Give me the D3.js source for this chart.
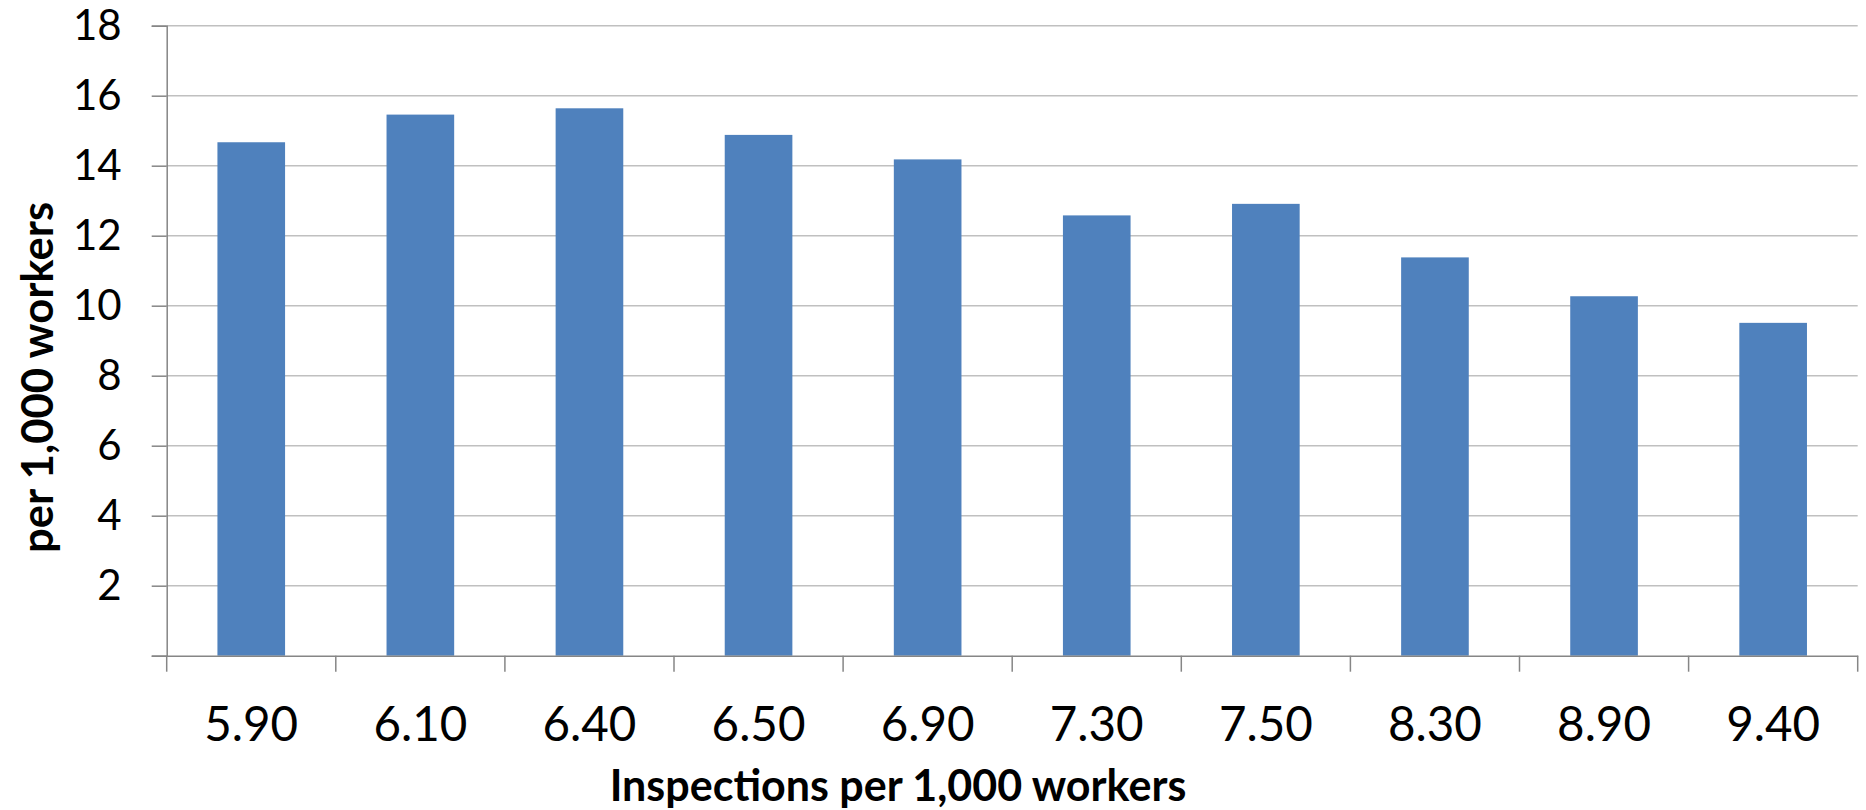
<!DOCTYPE html>
<html>
<head>
<meta charset="utf-8">
<script src="https://cdn.jsdelivr.net/npm/d3@7"></script>
<style>
  html, body { margin: 0; padding: 0; background: #fff; }
  svg { display: block; font-family: Lato, "Open Sans", sans-serif; }
</style>
</head>
<body>
<svg id="chart" width="1866" height="810"></svg>
<script>
// Inspection rate categories (x) and the rate per 1,000 workers (y)
const categories = ["5.90", "6.10", "6.40", "6.50", "6.90", "7.30", "7.50", "8.30", "8.90", "9.40"];
const values = [14.67, 15.46, 15.64, 14.88, 14.18, 12.58, 12.91, 11.38, 10.27, 9.51];
const yTicks = [0, 2, 4, 6, 8, 10, 12, 14, 16, 18];
const xTitle = "Inspections per 1,000 workers";
const yTitle = "per 1,000 workers";

const svg = d3.select("#chart");
const plotLeft = 166.7, plotRight = 1857.7, plotTop = 25.7, plotBottom = 655.7;

const x = d3.scaleBand().domain(categories).range([plotLeft, plotRight]).paddingInner(0.6).paddingOuter(0.3);
const y = d3.scaleLinear().domain([0, 18]).range([plotBottom, plotTop]);

// horizontal gridlines
svg.append("g")
  .selectAll("line")
  .data(yTicks.filter(d => d > 0))
  .join("line")
  .attr("x1", plotLeft).attr("x2", plotRight)
  .attr("y1", d => y(d)).attr("y2", d => y(d))
  .attr("stroke", "#c0c0c0").attr("stroke-width", 1.5);

// bars
svg.append("g")
  .selectAll("rect")
  .data(values)
  .join("rect")
  .attr("x", (d, i) => x(categories[i]))
  .attr("width", x.bandwidth())
  .attr("y", d => y(d))
  .attr("height", d => plotBottom - y(d))
  .attr("fill", "#4f81bd");

// y axis
const yAxis = svg.append("g")
  .attr("transform", `translate(${plotLeft},0)`)
  .call(d3.axisLeft(y).tickValues(yTicks).tickSize(15).tickPadding(30)
    .tickFormat(d => d === 0 ? "" : d));
yAxis.select(".domain").attr("stroke", "#868686").attr("stroke-width", 1.5);
yAxis.selectAll(".tick line").attr("stroke", "#868686").attr("stroke-width", 1.5);
yAxis.selectAll(".tick text")
  .attr("font-family", "Lato, sans-serif")
  .attr("font-size", 42).attr("fill", "#000");

// x axis: ticks sit on the category boundaries
const xAxis = svg.append("g")
  .attr("transform", `translate(0,${plotBottom})`)
  .call(d3.axisBottom(x).tickSize(0).tickPadding(0));
xAxis.select(".domain").attr("stroke", "#868686").attr("stroke-width", 1.5);
xAxis.selectAll(".tick text")
  .attr("font-family", "Lato, sans-serif")
  .attr("font-size", 47.5).attr("fill", "#000")
  .attr("dy", null).attr("y", 85);
const bounds = d3.range(categories.length + 1).map(i => plotLeft + i * (plotRight - plotLeft) / categories.length);
xAxis.append("g")
  .selectAll("line")
  .data(bounds)
  .join("line")
  .attr("x1", d => d).attr("x2", d => d)
  .attr("y1", 0).attr("y2", 16)
  .attr("stroke", "#868686").attr("stroke-width", 1.5);

// axis titles
svg.append("text")
  .attr("x", 898).attr("y", 801)
  .attr("text-anchor", "middle")
  .attr("font-family", "Lato, sans-serif")
  .attr("font-weight", "bold").attr("font-size", 43)
  .attr("fill", "#000")
  .text(xTitle);

svg.append("text")
  .attr("transform", "translate(53,377.5) rotate(-90)")
  .attr("text-anchor", "middle")
  .attr("font-family", "Lato, sans-serif")
  .attr("font-weight", "bold").attr("font-size", 43.5)
  .attr("fill", "#000")
  .text(yTitle);
</script>
</body>
</html>
